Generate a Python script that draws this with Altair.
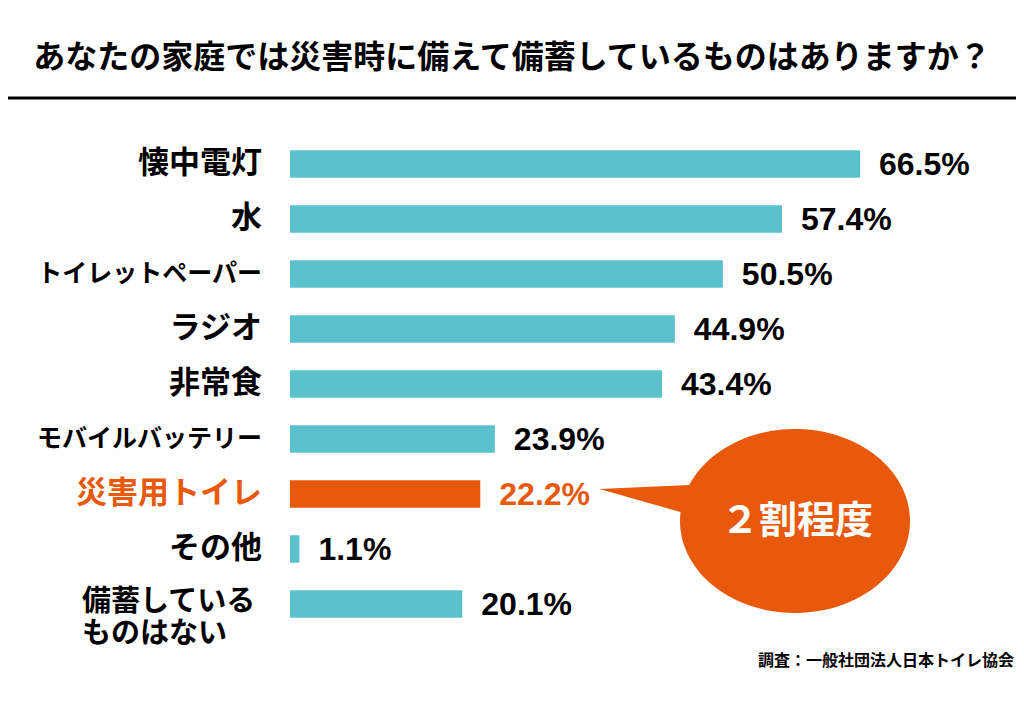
import altair as alt
import pandas as pd
import numpy as np

# ---- data ----
items = ["懐中電灯", "水", "トイレットペーパー", "ラジオ", "非常食",
         "モバイルバッテリー", "災害用トイレ", "その他", "備蓄している\nものはない"]
values = [66.5, 57.4, 50.5, 44.9, 43.4, 23.9, 22.2, 1.1, 20.1]
title_text = "あなたの家庭では災害時に備えて備蓄しているものはありますか？"
callout_text = "２割程度"
source_text = "調査：一般社団法人日本トイレ協会"
highlight = "災害用トイレ"

# ---- styles ----
TEAL = "#5BC2CD"
ORANGE = "#E8590C"
JP = "Noto Sans CJK JP"
NUM = "Liberation Sans, Arial, sans-serif"

df = pd.DataFrame({"item": items, "value": values})
one = pd.DataFrame({"k": [0]})

base = alt.Chart(df)
y = alt.Y("item:N", sort=items, axis=None,
          scale=alt.Scale(paddingInner=0.5, paddingOuter=0.25))
x = alt.X("value:Q", axis=None,
          scale=alt.Scale(domain=[0, 66.5], nice=False, zero=True))
is_hl = alt.datum.item == highlight
col = alt.when(is_hl).then(alt.value(ORANGE)).otherwise(alt.value(TEAL))
txtcol = alt.when(is_hl).then(alt.value(ORANGE)).otherwise(alt.value("#000000"))

bars = base.mark_bar().encode(x=x, y=y, color=col)

vlabels = base.transform_calculate(
    label="format(datum.value, '.1f') + '%'"
).mark_text(align="left", baseline="middle", dx=19, dy=1, font=NUM,
            fontWeight="bold", fontSize=32).encode(
    x=x, y=y, text="label:N", color=txtcol)

cat_main = base.transform_filter(
    alt.FieldOneOfPredicate(field="item", oneOf=items[:-1])
).mark_text(align="right", baseline="middle", font=JP, fontWeight="bold").encode(
    x=alt.value(-28), y=y, text="item:N", color=txtcol,
    size=alt.when("length(datum.item) >= 9").then(alt.value(25)).otherwise(alt.value(31)))

last_base = base.transform_filter(
    alt.FieldEqualPredicate(field="item", equal=items[-1])
).transform_calculate(
    line1="split(datum.item, '\\n')[0]",
    line2="split(datum.item, '\\n')[1]",
)
cat_last1 = last_base.mark_text(
    align="left", baseline="middle", font=JP, fontWeight="bold",
    fontSize=29, dy=-2, color="#000000"
).encode(x=alt.value(-208), y=y, text="line1:N")
cat_last2 = last_base.mark_text(
    align="left", baseline="middle", font=JP, fontWeight="bold",
    fontSize=29, dy=30, color="#000000"
).encode(x=alt.value(-208), y=y, text="line2:N")

# speech bubble shape (unit ellipse + tail)
th = np.linspace(3.543, 9.522, 120)
pts = [(-1.70, -0.278)] + [(float(np.cos(t)), 0.8 * float(np.sin(t))) for t in th]
bubble_path = "M" + " L".join(f"{px:.4f},{py:.4f}" for px, py in pts) + " Z"

bubble = alt.Chart(one).mark_point(
    shape=bubble_path, size=52900, filled=True, color=ORANGE, opacity=1, strokeWidth=0
).encode(x=alt.value(505), y=alt.value(384.5))

bubble_text = alt.Chart(one).mark_text(
    text=callout_text, font=JP, fontWeight="bold", fontSize=38, color="white",
    align="center", baseline="middle"
).encode(x=alt.value(507), y=alt.value(385))

title = alt.Chart(one).mark_text(
    text=title_text, font=JP, fontWeight="bold", fontSize=32, color="#000000",
    align="center", baseline="middle"
).encode(x=alt.value(222), y=alt.value(-79))

rule = alt.Chart(one).mark_rule(color="#000000", strokeWidth=3).encode(
    x=alt.value(-282), x2=alt.value(726), y=alt.value(-38.5))

source = alt.Chart(one).mark_text(
    text=source_text, font=JP, fontWeight="bold", fontSize=16, color="#000000",
    align="right", baseline="middle"
).encode(x=alt.value(724), y=alt.value(524.5))

chart = alt.layer(
    bars, vlabels, bubble, bubble_text, cat_main, cat_last1, cat_last2,
    title, rule, source
).properties(
    width=570, height=495, autosize="none",
    padding={"left": 282, "top": 128.5, "right": 156, "bottom": 65},
).configure_view(stroke=None)

chart.save("out.html", embed_options={"renderer": "svg", "actions": False})
